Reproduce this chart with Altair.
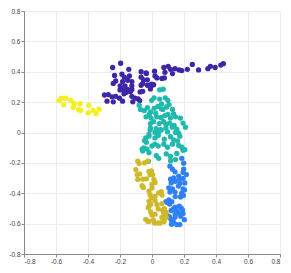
import altair as alt
import pandas as pd

# ---- data ----
yellow_x = [-0.581, -0.566, -0.539, -0.508, -0.551, -0.487, -0.492, -0.449, -0.458, -0.446,
            -0.395, -0.399, -0.368, -0.349, -0.330]
yellow_y = [0.210, 0.226, 0.226, 0.212, 0.182, 0.190, 0.165, 0.190, 0.150, 0.145,
            0.178, 0.129, 0.145, 0.125, 0.153]

indigo_x = [-0.196, -0.246, -0.145, -0.068, -0.037, -0.234, -0.188, -0.173, -0.141, -0.068,
            -0.227, -0.184, -0.153, -0.126, -0.052, -0.029, -0.242, -0.199, -0.169, -0.126,
            -0.184, -0.153, -0.126, -0.068, -0.029, 0.010, -0.297, -0.273, -0.250, -0.227,
            -0.203, -0.184, -0.281, -0.242, -0.126, -0.106, -0.087, -0.010,
            -0.200, -0.160, -0.135, -0.175,
            -0.058, -0.058, -0.074, -0.077, -0.120, -0.035, -0.004,
            0.016, 0.019, 0.031, 0.074, 0.101, 0.081, 0.116, 0.128, 0.144, 0.170,
            0.186, 0.221, 0.252, 0.291, 0.349, 0.365, 0.395, 0.430, 0.446, 0.062,
            0.077, 0.000]
indigo_y = [0.456, 0.428, 0.416, 0.400, 0.392, 0.376, 0.384, 0.364, 0.372, 0.364,
            0.339, 0.335, 0.344, 0.335, 0.347, 0.347, 0.323, 0.307, 0.307, 0.307,
            0.283, 0.283, 0.283, 0.311, 0.311, 0.315, 0.247, 0.250, 0.235, 0.238,
            0.226, 0.206, 0.206, 0.202, 0.238, 0.226, 0.222, 0.287,
            0.280, 0.265, 0.270, 0.255,
            0.323, 0.271, 0.267, 0.210, 0.202, 0.388, 0.319,
            0.404, 0.372, 0.359, 0.428, 0.436, 0.396, 0.416, 0.388, 0.420, 0.412,
            0.408, 0.416, 0.448, 0.412, 0.420, 0.436, 0.428, 0.444, 0.453, 0.356,
            0.359, 0.311]

teal_x = [0.048, -0.002, 0.013, 0.048, 0.083, 0.099, -0.080, -0.072, -0.048, -0.029,
          -0.010, 0.013, 0.037, 0.060, 0.068, 0.091, 0.106, -0.037, -0.017, -0.006,
          0.029, 0.056, 0.080, 0.099, 0.115, -0.010, 0.010, 0.045, 0.072, 0.087,
          0.110, -0.010, 0.025, 0.052, 0.087, 0.126, 0.138,
          0.070, 0.128, 0.135, 0.147, 0.178, 0.194, 0.209, 0.155, 0.023, 0.058,
          -0.012, 0.019, 0.039, 0.058, 0.097, 0.147, 0.167, -0.039, -0.019, 0.019,
          0.039, 0.077, 0.116, 0.135, 0.159, 0.174, -0.051, -0.031, 0.000, 0.019,
          0.039, 0.074, 0.097, 0.128, 0.167, 0.186, 0.205, -0.058, -0.019, 0.027,
          0.042, 0.089, 0.116, 0.155, 0.194, 0.116, 0.147,
          -0.019, -0.047, -0.035, -0.062, -0.023]
teal_y = [0.281, 0.212, 0.228, 0.220, 0.228, 0.212, 0.180, 0.152, 0.144, 0.164,
          0.135, 0.159, 0.172, 0.188, 0.152, 0.168, 0.184, 0.103, 0.119, 0.095,
          0.103, 0.099, 0.111, 0.119, 0.095, 0.059, 0.071, 0.059, 0.071, 0.055,
          0.062, 0.030, 0.026, 0.018, 0.030, 0.035, 0.047,
          0.285, 0.152, 0.123, 0.103, 0.095, 0.062, 0.035, 0.022, 0.127, 0.156,
          0.016, 0.000, -0.004, 0.016, 0.004, 0.000, -0.004, -0.036, -0.024, -0.036,
          -0.020, -0.044, -0.028, -0.048, -0.056, -0.024, -0.101, -0.109, -0.089, -0.077,
          -0.089, -0.077, -0.097, -0.077, -0.085, -0.097, -0.113, -0.121, -0.133, -0.153,
          -0.170, -0.141, -0.158, -0.138, -0.117, -0.186, -0.178,
          -0.012, -0.053, -0.065, -0.109, -0.190]

olive_x = [-0.089, -0.081, -0.047, -0.027, -0.101, -0.093, -0.077, -0.089, -0.062, -0.054,
           -0.035, -0.019, -0.004, 0.004, 0.012, 0.019, 0.000, -0.019, -0.012, 0.000,
           0.042, 0.058, -0.004, -0.008, 0.019, 0.031, 0.039, 0.066, 0.074, 0.081,
           0.062, 0.000, 0.008, -0.027, -0.039, 0.016, 0.035, 0.051, 0.074, -0.023,
           -0.008, -0.058, -0.012, -0.019, -0.019, 0.062, 0.062, 0.077, 0.089, 0.019,
           -0.019, 0.077, 0.089, 0.019]
olive_y = [-0.188, -0.204, -0.200, -0.188, -0.244, -0.277, -0.273, -0.309, -0.350, -0.362,
           -0.305, -0.256, -0.253, -0.277, -0.309, -0.329, -0.341, -0.386, -0.410, -0.365,
           -0.398, -0.390, -0.430, -0.471, -0.447, -0.475, -0.503, -0.511, -0.532, -0.547,
           -0.559, -0.544, -0.576, -0.584, -0.572, -0.596, -0.596, -0.596, -0.588, -0.495,
           -0.523, -0.307, -0.279, -0.453, -0.485, -0.412, -0.468, -0.501, -0.525, -0.538,
           -0.586, -0.574, -0.558, -0.420]

blue_x = [0.186, 0.198, 0.112, 0.128, 0.198, 0.194, 0.144, 0.167, 0.135, 0.170,
          0.194, 0.116, 0.120, 0.174, 0.205, 0.194, 0.105, 0.128, 0.112, 0.144,
          0.186, 0.178, 0.105, 0.097, 0.124, 0.170, 0.182, 0.135, 0.190, 0.120,
          0.151, 0.159, 0.194, 0.109, 0.120, 0.144, 0.135, 0.155, 0.174, 0.202,
          0.215, 0.145, 0.165, 0.203, 0.196, 0.145, 0.087, 0.110, 0.145, 0.106,
          0.145, 0.169, 0.180, 0.122]
blue_y = [-0.170, -0.202, -0.222, -0.242, -0.242, -0.262, -0.259, -0.287, -0.299, -0.307,
          -0.303, -0.307, -0.332, -0.335, -0.332, -0.372, -0.364, -0.372, -0.392, -0.392,
          -0.400, -0.424, -0.444, -0.461, -0.456, -0.485, -0.497, -0.501, -0.509, -0.513,
          -0.513, -0.525, -0.533, -0.558, -0.574, -0.558, -0.590, -0.606, -0.606, -0.574,
          -0.277, -0.321, -0.353, -0.378, -0.414, -0.422, -0.455, -0.471, -0.491, -0.552,
          -0.539, -0.532, -0.552, -0.604]

clusters = ["indigo", "blue", "teal", "olive", "yellow"]
cluster_colors = ["#3e26a8", "#2f80f5", "#1fb9ad", "#cfb92a", "#f5ef1a"]
ticks = [-0.8, -0.6, -0.4, -0.2, 0, 0.2, 0.4, 0.6, 0.8]

frames = []
for name, xs, ys in [("indigo", indigo_x, indigo_y), ("blue", blue_x, blue_y),
                     ("teal", teal_x, teal_y), ("olive", olive_x, olive_y),
                     ("yellow", yellow_x, yellow_y)]:
    frames.append(pd.DataFrame({"x": xs, "y": ys, "cluster": name}))
df = pd.concat(frames, ignore_index=True)

axis_common = dict(
    values=ticks, labelExpr="'' + datum.value", labelFontSize=6.5, labelColor="#444",
    labelFont="Liberation Sans", tickSize=3, tickColor="#888", domainColor="#888",
    gridColor="#ececec", title=None, labelPadding=1,
)

chart = alt.Chart(df).mark_circle(size=28, opacity=1).encode(
    x=alt.X("x:Q", scale=alt.Scale(domain=[-0.8, 0.8], nice=False), axis=alt.Axis(**axis_common)),
    y=alt.Y("y:Q", scale=alt.Scale(domain=[-0.8, 0.8], nice=False), axis=alt.Axis(**axis_common)),
    color=alt.Color("cluster:N", scale=alt.Scale(domain=clusters, range=cluster_colors), legend=None),
).properties(
    width=275, height=257,
    autosize=alt.AutoSizeParams(type="fit", contains="padding"),
    padding={"left": 0, "top": 0, "right": 2, "bottom": 0},
).configure_view(strokeWidth=0)

chart.save("out.html", embed_options={"renderer": "svg", "actions": False})
